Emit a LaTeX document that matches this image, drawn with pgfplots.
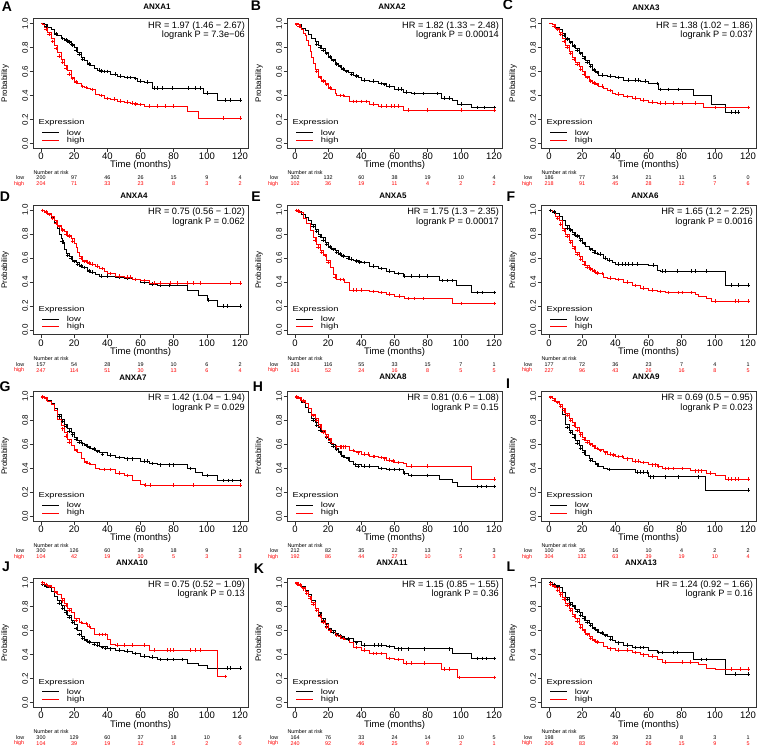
\documentclass[border=0pt]{standalone}
\usepackage{fontspec}
\setmainfont{Liberation Sans}
\usepackage{graphicx}
\usepackage{pgfplots}
\pgfplotsset{compat=1.18}
\definecolor{kmred}{RGB}{255,0,0}
\newcommand\tickfont{\fontsize{9.5}{10}\selectfont}
\newcommand\legfont{\fontsize{9.3}{9}\selectfont}
\newcommand\ytickfont{\fontsize{8}{8}\selectfont}
\newcommand\hrfont{\fontsize{9.2}{8.4}\selectfont}
\newcommand\riskfont{\fontsize{5.4}{6}\selectfont}
\newcommand\letfont{\fontsize{14}{14}\selectfont\bfseries}
\newcommand\titfont{\fontsize{8}{8}\selectfont\bfseries}
\newcommand\sq[1]{\scalebox{1}[0.78]{#1}}
\tikzset{risk/.style={font=\riskfont, inner sep=0pt, anchor=center}}
\pgfplotsset{
 km/.style={
  scale only axis, width=215pt, height=129.6pt,
  xmin=-4.8, xmax=124.8, ymin=-0.04, ymax=1.04,
  clip=false, anchor=south west,
  axis line style={black!80, line width=0.5pt},
  xtick={0,20,40,60,80,100,120}, xticklabels={0,20,40,60,80,100,120},
  ytick={0,0.2,0.4,0.6,0.8,1}, yticklabels={0.0,0.2,0.4,0.6,0.8,1.0},
  tick pos=left, tick align=outside,
  major tick length=3.5pt,
  every tick/.style={black!80, line width=0.5pt},
  xticklabel style={font=\tickfont, inner sep=0pt, yshift=-1pt},
  yticklabel style={font=\ytickfont, rotate=90, anchor=south, inner sep=1.5pt},
  xlabel={Time (months)}, ylabel={Probability},
  xlabel style={font=\tickfont, inner sep=0pt, at={(axis description cs:0.5,-0.132)}, anchor=center},
  ylabel style={font=\ytickfont, at={(axis description cs:-0.13,0.5)}, anchor=center},
 },
 lowc/.style={black, line width=0.6pt, const plot, mark=none},
 highc/.style={kmred, line width=0.6pt, const plot, mark=none},
 lowm/.style={black, only marks, mark=+, mark size=1.8pt, mark options={line width=0.45pt}},
 highm/.style={kmred, only marks, mark=+, mark size=1.8pt, mark options={line width=0.45pt}},
}
\newcommand\hr[2]{\node[anchor=north east, align=right, inner sep=0pt, font=\hrfont, xshift=-3pt, yshift=-2.5pt] at (rel axis cs:1,1) {HR = #1\\logrank P = #2};}
\newcommand\leg{%
 \node[anchor=west, inner sep=0pt, font=\legfont] at (axis cs:-1.6,0.17) {\sq{Expression}};
 \draw[black, line width=0.5pt] (axis cs:0.8,0.092) -- (axis cs:11,0.092);
 \node[anchor=west, inner sep=0pt, font=\legfont] at (axis cs:15.5,0.092) {\sq{low}};
 \draw[kmred, line width=0.5pt] (axis cs:0.8,0.027) -- (axis cs:11,0.027);
 \node[anchor=west, inner sep=0pt, font=\legfont] at (axis cs:15.5,0.027) {\sq{high}};
}
\newcommand\riskhead{%
 \node[risk, anchor=west] at (axis cs:-4.6,-0.243) {Number at risk};
 \node[risk, anchor=east] at (axis cs:-10,-0.2875) {low};
 \node[risk, anchor=east, text=kmred] at (axis cs:-10,-0.3375) {high};
}
\newcommand\risklow[7]{%
 \node[risk] at (axis cs:0,-0.2875) {#1};
 \node[risk] at (axis cs:20,-0.2875) {#2};
 \node[risk] at (axis cs:40,-0.2875) {#3};
 \node[risk] at (axis cs:60,-0.2875) {#4};
 \node[risk] at (axis cs:80,-0.2875) {#5};
 \node[risk] at (axis cs:100,-0.2875) {#6};
 \node[risk] at (axis cs:120,-0.2875) {#7};
}
\newcommand\riskhigh[7]{%
 \node[risk, text=kmred] at (axis cs:0,-0.3375) {#1};
 \node[risk, text=kmred] at (axis cs:20,-0.3375) {#2};
 \node[risk, text=kmred] at (axis cs:40,-0.3375) {#3};
 \node[risk, text=kmred] at (axis cs:60,-0.3375) {#4};
 \node[risk, text=kmred] at (axis cs:80,-0.3375) {#5};
 \node[risk, text=kmred] at (axis cs:100,-0.3375) {#6};
 \node[risk, text=kmred] at (axis cs:120,-0.3375) {#7};
}
\begin{document}
\begin{tikzpicture}
\path[use as bounding box] (0,0) rectangle (758pt,-751pt);
% letters and titles
\node[font=\letfont] at (7pt,-7pt) {A};
\node[font=\letfont] at (256pt,-6pt) {B};
\node[font=\letfont] at (508pt,-5pt) {C};
\node[font=\letfont] at (5pt,-197pt) {D};
\node[font=\letfont] at (256pt,-197pt) {E};
\node[font=\letfont] at (511pt,-197pt) {F};
\node[font=\letfont] at (5pt,-387pt) {G};
\node[font=\letfont] at (258pt,-387pt) {H};
\node[font=\letfont] at (508pt,-384pt) {I};
\node[font=\letfont] at (6pt,-567pt) {J};
\node[font=\letfont] at (259pt,-569pt) {K};
\node[font=\letfont] at (511pt,-567pt) {L};
\node[font=\titfont] at (157pt,-7pt) {ANXA1};
\node[font=\titfont] at (392pt,-7pt) {ANXA2};
\node[font=\titfont] at (646pt,-8pt) {ANXA3};
\node[font=\titfont] at (134pt,-196pt) {ANXA4};
\node[font=\titfont] at (393pt,-196pt) {ANXA5};
\node[font=\titfont] at (645pt,-196pt) {ANXA6};
\node[font=\titfont] at (133pt,-378pt) {ANXA7};
\node[font=\titfont] at (393pt,-377pt) {ANXA8};
\node[font=\titfont] at (646pt,-377pt) {ANXA9};
\node[font=\titfont] at (132pt,-563pt) {ANXA10};
\node[font=\titfont] at (392pt,-563pt) {ANXA11};
\node[font=\titfont] at (641pt,-563pt) {ANXA13};

% ---------------- A ANXA1
\begin{axis}[km, at={(33.04pt,-148.3pt)}]
\addplot[lowc] coordinates {(0,1)(2,0.99)(4,0.97)(6,0.95)(8,0.92)(10,0.90)(12,0.88)(14,0.87)(16,0.85)(18,0.83)(20,0.80)(22,0.76)(24,0.72)(26,0.69)(28,0.67)(30,0.65)(32,0.63)(34,0.61)(37,0.60)(42,0.58)(46,0.56)(50,0.55)(56,0.54)(58,0.52)(62,0.51)(67,0.46)(98,0.42)(106,0.36)(120,0.36)};
\addplot[lowm] coordinates {(3,0.98)(9,0.91)(13,0.875)(15,0.86)(16.5,0.85)(17,0.845)(18.5,0.83)(19,0.82)(21,0.78)(23,0.74)(25,0.70)(29,0.66)(35,0.61)(36,0.605)(38,0.60)(40,0.60)(45,0.58)(48,0.56)(52,0.55)(54,0.55)(57,0.54)(60,0.52)(64,0.51)(68,0.46)(70,0.46)(73,0.46)(79,0.46)(89,0.46)(93,0.46)(96,0.46)(100,0.42)(111,0.36)(114,0.36)(120,0.36)};
\addplot[highc] coordinates {(0,1)(1,0.99)(2,0.97)(4,0.93)(6,0.88)(8,0.82)(10,0.76)(12,0.70)(14,0.65)(16,0.61)(18,0.55)(20,0.52)(22,0.50)(24,0.48)(26,0.47)(28,0.46)(30,0.45)(33,0.41)(35,0.40)(38,0.38)(42,0.37)(46,0.355)(50,0.345)(54,0.335)(58,0.325)(62,0.31)(88,0.265)(95,0.21)(120,0.21)};
\addplot[highm] coordinates {(3,0.95)(5,0.91)(7,0.85)(9,0.79)(11,0.73)(13,0.68)(15,0.63)(17,0.58)(19,0.54)(21,0.51)(25,0.475)(27,0.465)(31,0.45)(36,0.40)(40,0.375)(44,0.37)(48,0.355)(52,0.345)(55,0.335)(57,0.33)(60,0.325)(65,0.31)(70,0.31)(75,0.31)(80,0.31)(110,0.21)(120,0.21)};
\hr{1.97 (1.46 − 2.67)}{7.3e−06}
\leg\riskhead
\risklow{200}{97}{46}{26}{15}{9}{4}
\riskhigh{204}{71}{33}{23}{8}{3}{2}
\end{axis}

% ---------------- B ANXA2
\begin{axis}[km, at={(287.04pt,-148.3pt)}]
\addplot[lowc] coordinates {(0,1)(2,0.99)(4,0.96)(6,0.94)(8,0.91)(10,0.88)(12,0.85)(14,0.82)(16,0.79)(18,0.76)(20,0.73)(22,0.70)(24,0.67)(26,0.65)(28,0.63)(30,0.61)(32,0.59)(35,0.57)(38,0.55)(40,0.53)(45,0.52)(50,0.50)(55,0.48)(60,0.455)(65,0.43)(70,0.415)(88,0.38)(95,0.36)(98,0.33)(106,0.30)(120,0.30)};
\addplot[lowm] coordinates {(13,0.83)(15,0.80)(17,0.78)(19,0.75)(21,0.72)(23,0.69)(25,0.66)(27,0.64)(29,0.62)(31,0.60)(34,0.58)(37,0.56)(42,0.53)(47,0.52)(52,0.50)(54,0.49)(57,0.48)(62,0.455)(64,0.455)(67,0.43)(72,0.415)(77,0.415)(86,0.415)(90,0.38)(93,0.38)(100,0.33)(110,0.30)(114,0.30)(120,0.30)};
\addplot[highc] coordinates {(0,1)(2,0.99)(3,0.97)(4,0.95)(5,0.92)(6,0.90)(7,0.86)(8,0.82)(9,0.77)(10,0.72)(11,0.67)(12,0.62)(14,0.56)(16,0.53)(18,0.50)(20,0.47)(22,0.45)(24,0.42)(25,0.40)(30,0.39)(33,0.35)(45,0.33)(50,0.31)(65,0.28)(120,0.28)};
\addplot[highm] coordinates {(1,0.99)(2.5,0.98)(13,0.60)(15,0.55)(17,0.52)(19,0.49)(21,0.46)(27,0.40)(29,0.40)(35,0.35)(37,0.35)(40,0.35)(43,0.35)(47,0.33)(52,0.31)(55,0.31)(58,0.31)(60,0.31)(62,0.31)(68,0.28)(80,0.28)(100,0.28)(120,0.28)};
\hr{1.82 (1.33 − 2.48)}{0.00014}
\leg\riskhead
\risklow{302}{132}{60}{38}{19}{10}{4}
\riskhigh{102}{36}{19}{11}{4}{2}{2}
\end{axis}

% ---------------- C ANXA3
\begin{axis}[km, at={(541.04pt,-148.3pt)}]
\addplot[lowc] coordinates {(0,1)(2,0.99)(4,0.97)(6,0.95)(8,0.92)(10,0.88)(12,0.85)(14,0.82)(16,0.79)(18,0.76)(20,0.73)(22,0.69)(24,0.66)(26,0.62)(28,0.60)(30,0.57)(35,0.56)(40,0.55)(45,0.53)(55,0.52)(60,0.50)(66,0.45)(87,0.40)(98,0.33)(106,0.26)(114,0.26)};
\addplot[lowm] coordinates {(9,0.90)(11,0.87)(13,0.84)(15,0.81)(17,0.78)(19,0.75)(21,0.71)(23,0.68)(25,0.64)(27,0.61)(29,0.59)(32,0.57)(37,0.56)(42,0.55)(48,0.53)(52,0.53)(54,0.53)(58,0.52)(65,0.50)(67,0.45)(72,0.45)(78,0.45)(110,0.26)(112,0.26)(114,0.26)};
\addplot[highc] coordinates {(0,1)(2,0.99)(4,0.96)(6,0.93)(8,0.88)(10,0.82)(12,0.77)(14,0.72)(16,0.68)(18,0.64)(20,0.60)(22,0.56)(24,0.53)(26,0.51)(28,0.50)(30,0.48)(33,0.46)(35,0.44)(38,0.42)(40,0.41)(45,0.39)(50,0.38)(55,0.36)(60,0.345)(65,0.335)(93,0.30)(120,0.30)};
\addplot[highm] coordinates {(3,0.98)(5,0.95)(7,0.91)(9,0.85)(11,0.80)(13,0.75)(15,0.70)(17,0.66)(19,0.62)(21,0.58)(23,0.55)(25,0.52)(27,0.505)(29,0.49)(32,0.48)(37,0.44)(42,0.41)(47,0.39)(52,0.38)(57,0.36)(62,0.345)(67,0.335)(70,0.335)(75,0.335)(80,0.335)(88,0.335)(100,0.30)(120,0.30)};
\hr{1.38 (1.02 − 1.86)}{0.037}
\leg\riskhead
\risklow{186}{77}{34}{21}{11}{5}{0}
\riskhigh{218}{91}{45}{28}{12}{7}{6}
\end{axis}

% ---------------- D ANXA4
\begin{axis}[km, at={(33.04pt,-334.7pt)}]
\addplot[lowc] coordinates {(0,1)(2,0.99)(4,0.97)(6,0.94)(8,0.90)(10,0.85)(11,0.80)(12,0.76)(13,0.72)(14,0.67)(15,0.64)(17,0.61)(19,0.58)(21,0.56)(23,0.54)(25,0.52)(28,0.50)(30,0.48)(33,0.46)(35,0.45)(45,0.44)(50,0.43)(55,0.42)(60,0.40)(65,0.38)(70,0.37)(88,0.33)(95,0.29)(100,0.25)(106,0.20)(120,0.20)};
\addplot[lowm] coordinates {(3,0.98)(5,0.96)(12.5,0.74)(13.5,0.73)(16,0.62)(18,0.60)(20,0.57)(22,0.55)(24,0.53)(26,0.52)(29,0.49)(31,0.48)(36,0.45)(40,0.45)(47,0.44)(52,0.43)(57,0.42)(62,0.40)(67,0.38)(72,0.37)(77,0.37)(101,0.25)(110,0.20)(112,0.20)(120,0.20)};
\addplot[highc] coordinates {(0,1)(2,0.99)(4,0.97)(6,0.95)(8,0.91)(10,0.87)(12,0.84)(14,0.82)(16,0.79)(18,0.76)(20,0.72)(21,0.69)(22,0.65)(23,0.61)(25,0.58)(28,0.56)(30,0.55)(33,0.53)(35,0.51)(38,0.49)(40,0.47)(45,0.45)(50,0.44)(55,0.42)(60,0.41)(65,0.39)(120,0.39)};
\addplot[highm] coordinates {(1,0.995)(3,0.98)(5,0.96)(7,0.93)(9,0.89)(11,0.86)(13,0.83)(15,0.80)(17,0.78)(19,0.74)(24,0.60)(26,0.57)(27,0.57)(29,0.555)(31,0.55)(34,0.53)(37,0.51)(42,0.47)(47,0.45)(52,0.44)(54,0.44)(57,0.42)(62,0.41)(68,0.39)(72,0.39)(78,0.39)(82,0.39)(88,0.39)(92,0.39)(96,0.39)(114,0.39)(120,0.39)};
\hr{0.75 (0.56 − 1.02)}{0.062}
\leg\riskhead
\risklow{157}{54}{28}{19}{10}{6}{2}
\riskhigh{247}{114}{51}{30}{13}{6}{4}
\end{axis}

% ---------------- E ANXA5
\begin{axis}[km, at={(287.04pt,-334.7pt)}]
\addplot[lowc] coordinates {(0,1)(2,0.99)(4,0.96)(6,0.94)(8,0.91)(10,0.88)(12,0.84)(14,0.80)(16,0.77)(18,0.73)(20,0.70)(22,0.68)(24,0.66)(26,0.64)(28,0.62)(30,0.61)(33,0.59)(35,0.58)(38,0.57)(40,0.56)(45,0.53)(50,0.51)(55,0.49)(60,0.47)(65,0.45)(87,0.41)(97,0.37)(106,0.31)(120,0.31)};
\addplot[lowm] coordinates {(11,0.86)(13,0.82)(15,0.78)(17,0.75)(19,0.71)(21,0.69)(23,0.67)(25,0.65)(27,0.63)(29,0.615)(32,0.60)(34,0.59)(37,0.575)(39,0.565)(42,0.56)(47,0.53)(52,0.51)(57,0.49)(62,0.47)(66,0.45)(70,0.45)(75,0.45)(80,0.45)(89,0.41)(92,0.41)(95,0.41)(110,0.31)(113,0.31)(120,0.31)};
\addplot[highc] coordinates {(0,1)(2,0.99)(3,0.98)(5,0.93)(7,0.89)(9,0.83)(11,0.77)(13,0.71)(15,0.66)(17,0.63)(19,0.58)(21,0.52)(23,0.46)(25,0.42)(30,0.40)(33,0.33)(45,0.32)(50,0.31)(55,0.30)(60,0.28)(66,0.26)(95,0.22)(120,0.22)};
\addplot[highm] coordinates {(1,0.995)(2,0.99)(2.5,0.985)(12,0.75)(14,0.69)(16,0.65)(18,0.62)(20,0.56)(24,0.44)(27,0.42)(29,0.42)(35,0.33)(37,0.33)(40,0.33)(47,0.32)(52,0.31)(57,0.30)(63,0.28)(68,0.26)(72,0.26)(77,0.26)(100,0.22)(120,0.22)};
\hr{1.75 (1.3 − 2.35)}{0.00017}
\leg\riskhead
\risklow{263}{116}{55}{33}{15}{7}{1}
\riskhigh{141}{52}{24}{16}{8}{5}{5}
\end{axis}

% ---------------- F ANXA6
\begin{axis}[km, at={(541.04pt,-334.7pt)}]
\addplot[lowc] coordinates {(0,1)(2,0.99)(4,0.97)(6,0.95)(8,0.91)(10,0.87)(12,0.84)(14,0.81)(16,0.79)(18,0.76)(20,0.73)(22,0.70)(24,0.68)(26,0.66)(28,0.64)(30,0.63)(33,0.60)(35,0.58)(38,0.56)(40,0.55)(60,0.54)(65,0.50)(67,0.49)(106,0.375)(120,0.375)};
\addplot[lowm] coordinates {(1,0.995)(3,0.98)(11,0.85)(13,0.83)(15,0.80)(17,0.78)(19,0.75)(21,0.72)(25,0.67)(27,0.65)(29,0.635)(31,0.63)(34,0.60)(36,0.58)(42,0.55)(44,0.55)(46,0.55)(48,0.55)(50,0.55)(53,0.55)(63,0.54)(68,0.49)(70,0.49)(77,0.49)(86,0.49)(88,0.49)(95,0.49)(110,0.375)(114,0.375)(120,0.375)};
\addplot[highc] coordinates {(0,1)(2,0.98)(4,0.95)(6,0.91)(8,0.85)(10,0.80)(12,0.75)(14,0.70)(16,0.65)(18,0.61)(20,0.57)(22,0.54)(24,0.51)(26,0.50)(28,0.48)(30,0.47)(33,0.44)(35,0.43)(40,0.42)(45,0.40)(50,0.37)(55,0.35)(60,0.33)(65,0.32)(70,0.31)(88,0.30)(90,0.28)(95,0.26)(98,0.24)(120,0.24)};
\addplot[highm] coordinates {(5,0.93)(7,0.88)(9,0.83)(11,0.78)(13,0.73)(15,0.68)(17,0.63)(19,0.59)(21,0.55)(23,0.52)(25,0.505)(27,0.49)(29,0.475)(32,0.47)(37,0.43)(42,0.42)(47,0.40)(52,0.37)(57,0.35)(62,0.33)(67,0.32)(72,0.31)(78,0.31)(80,0.31)(86,0.31)(100,0.24)(112,0.24)(114,0.24)(120,0.24)};
\hr{1.65 (1.2 − 2.25)}{0.0016}
\leg\riskhead
\risklow{177}{72}{36}{23}{7}{4}{1}
\riskhigh{227}{96}{43}{26}{16}{8}{5}
\end{axis}

% ---------------- G ANXA7
\begin{axis}[km, at={(33.04pt,-521.1pt)}]
\addplot[lowc] coordinates {(0,1)(2,0.99)(4,0.97)(6,0.94)(8,0.90)(10,0.85)(12,0.81)(14,0.77)(16,0.73)(18,0.70)(20,0.66)(22,0.63)(24,0.61)(26,0.60)(28,0.58)(30,0.57)(33,0.55)(35,0.53)(40,0.51)(45,0.49)(50,0.48)(60,0.46)(65,0.44)(70,0.43)(88,0.40)(93,0.37)(97,0.34)(106,0.30)(120,0.30)};
\addplot[lowm] coordinates {(1,0.995)(3,0.98)(11,0.83)(13,0.79)(15,0.75)(17,0.71)(19,0.68)(21,0.645)(23,0.62)(25,0.605)(27,0.59)(29,0.575)(32,0.56)(34,0.54)(37,0.52)(42,0.51)(47,0.49)(52,0.48)(55,0.48)(62,0.46)(64,0.46)(67,0.44)(72,0.43)(77,0.43)(80,0.43)(90,0.40)(100,0.34)(110,0.30)(113,0.30)(115,0.30)(120,0.30)};
\addplot[highc] coordinates {(0,1)(2,0.99)(4,0.96)(6,0.93)(8,0.88)(10,0.81)(12,0.76)(14,0.70)(16,0.64)(18,0.59)(20,0.56)(22,0.53)(24,0.48)(26,0.46)(28,0.44)(30,0.43)(33,0.40)(35,0.39)(45,0.36)(50,0.34)(55,0.30)(60,0.27)(62,0.26)(120,0.26)};
\addplot[highm] coordinates {(1,0.995)(3,0.98)(13,0.73)(15,0.67)(17,0.62)(21,0.55)(27,0.45)(29,0.44)(38,0.39)(42,0.39)(47,0.36)(52,0.34)(63,0.26)(66,0.26)(80,0.26)(92,0.26)(120,0.26)};
\hr{1.42 (1.04 − 1.94)}{0.029}
\leg\riskhead
\risklow{300}{126}{60}{39}{18}{9}{3}
\riskhigh{104}{42}{19}{10}{5}{3}{3}
\end{axis}

% ---------------- H ANXA8
\begin{axis}[km, at={(287.04pt,-521.1pt)}]
\addplot[lowc] coordinates {(0,1)(2,0.98)(4,0.95)(6,0.91)(8,0.87)(10,0.82)(12,0.78)(14,0.74)(16,0.71)(18,0.68)(20,0.64)(22,0.60)(24,0.57)(26,0.54)(28,0.51)(30,0.49)(33,0.46)(35,0.43)(40,0.42)(50,0.40)(55,0.39)(65,0.36)(68,0.34)(87,0.31)(95,0.28)(98,0.25)(120,0.25)};
\addplot[lowm] coordinates {(11,0.80)(13,0.76)(15,0.72)(17,0.70)(19,0.66)(21,0.62)(23,0.585)(25,0.56)(27,0.53)(29,0.50)(32,0.48)(36,0.43)(38,0.42)(42,0.42)(45,0.42)(52,0.40)(57,0.39)(60,0.39)(63,0.39)(66,0.36)(70,0.34)(80,0.34)(110,0.25)(112,0.25)(115,0.25)(120,0.25)};
\addplot[highc] coordinates {(0,1)(2,0.99)(4,0.97)(6,0.94)(8,0.90)(10,0.85)(12,0.82)(14,0.77)(16,0.72)(18,0.68)(20,0.65)(22,0.61)(23,0.58)(31,0.58)(33,0.55)(36,0.54)(40,0.52)(45,0.50)(50,0.49)(55,0.47)(60,0.45)(65,0.44)(67,0.42)(106,0.31)(120,0.31)};
\addplot[highm] coordinates {(1,0.995)(1.5,0.99)(3,0.98)(5,0.96)(11,0.84)(13,0.80)(15,0.75)(17,0.70)(19,0.67)(21,0.63)(25,0.58)(27,0.58)(28,0.58)(29,0.58)(30,0.58)(35,0.55)(38,0.53)(42,0.52)(44,0.52)(47,0.50)(48,0.50)(52,0.49)(54,0.48)(57,0.47)(59,0.46)(62,0.45)(70,0.42)(80,0.42)(120,0.31)};
\hr{0.81 (0.6 − 1.08)}{0.15}
\leg\riskhead
\risklow{212}{82}{35}{22}{13}{7}{3}
\riskhigh{192}{86}{44}{27}{10}{5}{3}
\end{axis}

% ---------------- I ANXA9
\begin{axis}[km, at={(541.04pt,-521.1pt)}]
\addplot[lowc] coordinates {(0,1)(2,0.98)(4,0.96)(6,0.93)(8,0.85)(10,0.77)(12,0.72)(14,0.68)(16,0.63)(18,0.59)(20,0.55)(22,0.51)(24,0.48)(26,0.46)(28,0.44)(30,0.42)(33,0.40)(35,0.39)(52,0.37)(60,0.33)(94,0.22)(120,0.22)};
\addplot[lowm] coordinates {(1,0.99)(11,0.74)(13,0.70)(15,0.66)(17,0.61)(19,0.57)(21,0.53)(25,0.47)(29,0.43)(36,0.39)(53,0.37)(55,0.37)(57,0.37)(59,0.37)(61,0.33)(63,0.33)(70,0.33)(78,0.33)(90,0.33)(120,0.22)};
\addplot[highc] coordinates {(0,1)(2,0.98)(4,0.96)(6,0.93)(8,0.90)(10,0.86)(12,0.82)(14,0.78)(16,0.74)(18,0.70)(20,0.66)(22,0.63)(24,0.61)(26,0.59)(28,0.57)(30,0.56)(33,0.54)(35,0.52)(40,0.50)(45,0.48)(50,0.46)(55,0.45)(60,0.43)(65,0.42)(68,0.40)(85,0.38)(95,0.36)(100,0.34)(106,0.31)(120,0.31)};
\addplot[highm] coordinates {(1,0.99)(3,0.97)(5,0.95)(7,0.92)(9,0.88)(11,0.84)(13,0.80)(15,0.76)(17,0.72)(19,0.68)(21,0.645)(23,0.62)(25,0.60)(27,0.58)(29,0.565)(31,0.55)(34,0.53)(37,0.52)(39,0.51)(42,0.50)(44,0.50)(47,0.48)(52,0.46)(54,0.46)(57,0.45)(62,0.43)(64,0.43)(66,0.42)(70,0.40)(72,0.40)(75,0.40)(80,0.40)(88,0.38)(90,0.38)(92,0.38)(97,0.36)(108,0.31)(110,0.31)(112,0.31)(114,0.31)(120,0.31)};
\hr{0.69 (0.5 − 0.95)}{0.023}
\leg\riskhead
\risklow{100}{36}{16}{10}{4}{2}{2}
\riskhigh{304}{132}{63}{39}{19}{10}{4}
\end{axis}

% ---------------- J ANXA10
\begin{axis}[km, at={(33.04pt,-707.5pt)}]
\addplot[lowc] coordinates {(0,1)(2,0.98)(4,0.96)(6,0.93)(8,0.89)(10,0.85)(12,0.81)(14,0.77)(16,0.73)(18,0.69)(20,0.65)(22,0.60)(24,0.55)(26,0.53)(28,0.51)(30,0.50)(35,0.47)(40,0.45)(45,0.44)(50,0.43)(55,0.41)(60,0.39)(65,0.38)(70,0.36)(88,0.33)(95,0.31)(100,0.29)(120,0.29)};
\addplot[lowm] coordinates {(1,0.99)(3,0.97)(11,0.83)(13,0.79)(15,0.75)(17,0.71)(19,0.67)(21,0.62)(23,0.57)(25,0.54)(27,0.52)(29,0.505)(32,0.49)(34,0.48)(37,0.46)(39,0.455)(42,0.45)(47,0.44)(52,0.43)(57,0.41)(62,0.39)(67,0.38)(72,0.36)(76,0.36)(80,0.36)(85,0.36)(112,0.29)(114,0.29)(120,0.29)};
\addplot[highc] coordinates {(0,1)(2,0.99)(4,0.98)(6,0.96)(8,0.93)(10,0.90)(12,0.87)(14,0.83)(16,0.79)(18,0.75)(20,0.70)(23,0.67)(25,0.66)(28,0.64)(30,0.62)(32,0.57)(40,0.53)(42,0.49)(45,0.48)(65,0.44)(106,0.22)(111,0.22)};
\addplot[highm] coordinates {(1,1)(3,0.985)(5,0.97)(9,0.92)(13,0.85)(15,0.81)(17,0.77)(21,0.69)(24,0.67)(27,0.66)(29,0.64)(35,0.57)(37,0.57)(39,0.57)(46,0.48)(50,0.48)(55,0.48)(62,0.48)(68,0.44)(76,0.44)(78,0.44)(80,0.44)(90,0.44)(93,0.44)(96,0.44)(111,0.22)};
\hr{0.75 (0.52 − 1.09)}{0.13}
\leg\riskhead
\risklow{300}{129}{60}{37}{18}{10}{6}
\riskhigh{104}{39}{19}{12}{5}{2}{0}
\end{axis}

% ---------------- K ANXA11
\begin{axis}[km, at={(287.04pt,-707.5pt)}]
\addplot[lowc] coordinates {(0,1)(2,0.99)(4,0.97)(6,0.94)(8,0.90)(10,0.85)(12,0.79)(14,0.75)(16,0.70)(18,0.66)(20,0.62)(22,0.60)(24,0.58)(26,0.565)(28,0.55)(30,0.54)(35,0.51)(40,0.48)(55,0.47)(60,0.45)(95,0.41)(106,0.37)(120,0.37)};
\addplot[lowm] coordinates {(11,0.82)(13,0.77)(15,0.73)(17,0.68)(19,0.64)(21,0.61)(23,0.59)(25,0.57)(27,0.56)(29,0.545)(32,0.53)(37,0.50)(42,0.48)(48,0.48)(50,0.48)(52,0.48)(57,0.47)(62,0.45)(64,0.45)(68,0.45)(78,0.45)(93,0.45)(110,0.37)(113,0.37)(115,0.37)(120,0.37)};
\addplot[highc] coordinates {(0,1)(2,0.99)(4,0.96)(6,0.93)(8,0.89)(10,0.84)(12,0.79)(14,0.74)(16,0.69)(18,0.65)(20,0.61)(22,0.59)(24,0.57)(26,0.555)(28,0.54)(30,0.53)(33,0.50)(35,0.46)(40,0.44)(45,0.41)(55,0.37)(60,0.36)(65,0.33)(88,0.28)(98,0.21)(120,0.21)};
\addplot[highm] coordinates {(1,0.995)(1.5,0.99)(3,0.98)(5,0.95)(7,0.91)(9,0.87)(11,0.82)(13,0.77)(15,0.72)(17,0.67)(19,0.63)(21,0.60)(25,0.56)(27,0.55)(29,0.535)(37,0.46)(42,0.44)(47,0.41)(49,0.41)(52,0.41)(57,0.37)(62,0.36)(67,0.33)(70,0.33)(78,0.33)(90,0.28)(93,0.28)(99,0.21)(120,0.21)};
\hr{1.15 (0.85 − 1.55)}{0.36}
\leg\riskhead
\risklow{164}{76}{33}{24}{14}{10}{5}
\riskhigh{240}{92}{46}{25}{9}{2}{1}
\end{axis}

% ---------------- L ANXA13
\begin{axis}[km, at={(541.04pt,-707.5pt)}]
\addplot[lowc] coordinates {(0,1)(2,0.99)(4,0.98)(6,0.96)(8,0.92)(10,0.88)(12,0.84)(14,0.81)(16,0.78)(18,0.75)(20,0.72)(22,0.69)(24,0.66)(26,0.63)(28,0.61)(30,0.59)(33,0.57)(35,0.55)(38,0.52)(40,0.50)(45,0.48)(50,0.46)(60,0.44)(65,0.42)(87,0.36)(106,0.24)(120,0.24)};
\addplot[lowm] coordinates {(1,1)(3,0.985)(5,0.97)(11,0.86)(13,0.82)(15,0.80)(17,0.76)(19,0.73)(21,0.70)(23,0.67)(25,0.645)(27,0.62)(29,0.60)(32,0.58)(34,0.56)(37,0.53)(42,0.50)(47,0.48)(52,0.46)(55,0.46)(57,0.46)(66,0.42)(68,0.42)(75,0.42)(77,0.42)(92,0.36)(95,0.36)(112,0.24)(120,0.24)};
\addplot[highc] coordinates {(0,1)(2,0.98)(4,0.96)(6,0.92)(8,0.88)(10,0.83)(12,0.79)(14,0.74)(16,0.70)(18,0.65)(20,0.61)(22,0.58)(24,0.55)(26,0.53)(28,0.51)(30,0.50)(33,0.47)(35,0.45)(40,0.44)(50,0.42)(55,0.40)(60,0.39)(65,0.36)(68,0.34)(90,0.32)(95,0.29)(100,0.28)(120,0.28)};
\addplot[highm] coordinates {(1,0.99)(3,0.97)(5,0.94)(7,0.90)(9,0.86)(11,0.81)(13,0.77)(15,0.72)(17,0.68)(19,0.63)(21,0.60)(23,0.57)(25,0.54)(27,0.52)(29,0.505)(37,0.45)(42,0.44)(47,0.44)(52,0.42)(57,0.40)(62,0.39)(70,0.34)(80,0.34)(85,0.34)(110,0.28)(115,0.28)(120,0.28)};
\hr{1.24 (0.92 − 1.66)}{0.16}
\leg\riskhead
\risklow{198}{85}{39}{23}{8}{3}{1}
\riskhigh{206}{83}{40}{26}{15}{9}{5}
\end{axis}
\end{tikzpicture}
\end{document}
